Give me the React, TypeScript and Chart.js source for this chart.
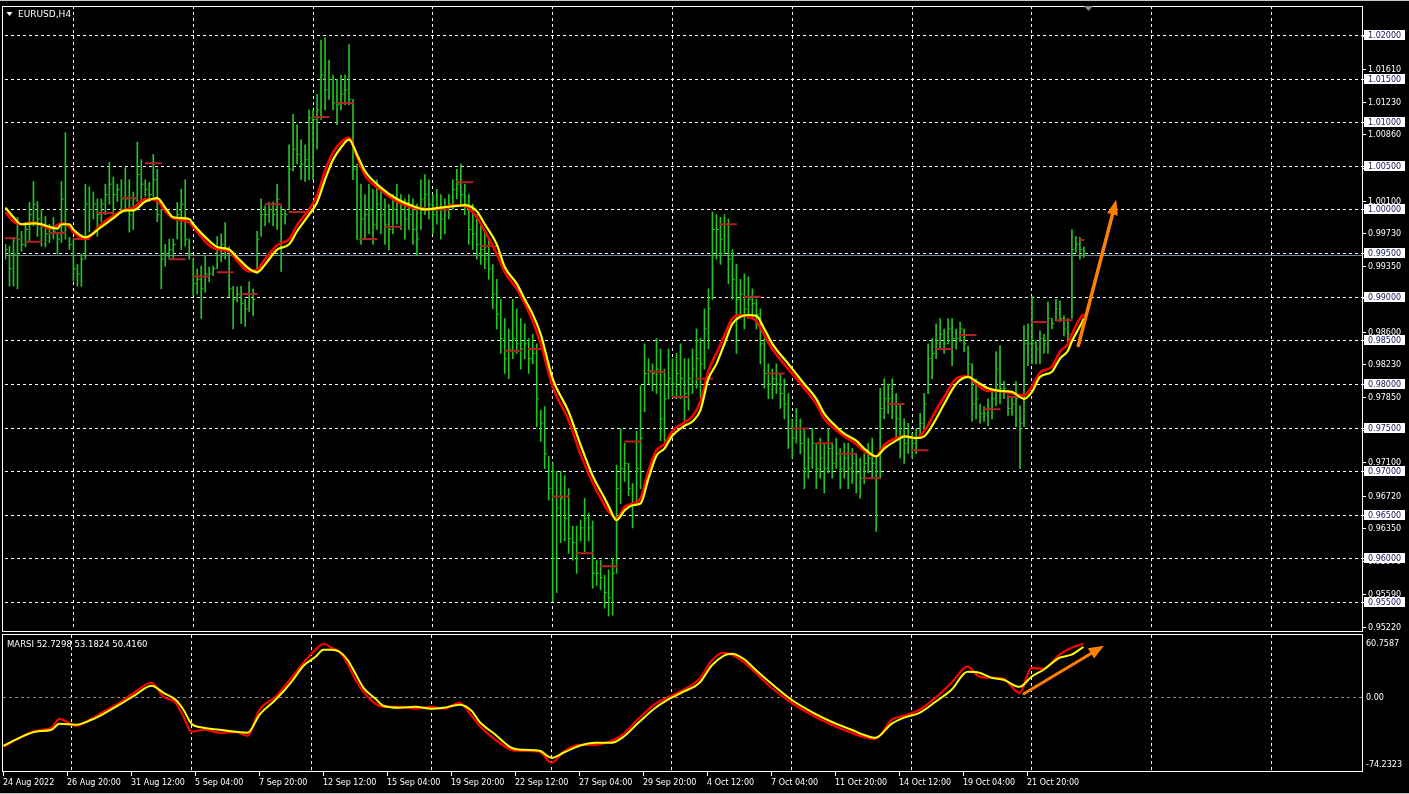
import React, { useEffect, useRef } from 'react';
import { Chart, registerables } from 'chart.js';

Chart.register(...registerables);

// ---------------- DATA (EURUSD H4, bar index 0 = 24 Aug 2022 04:00) ----------------
const BAR_HIGH = [
  0.9960,0.9958,0.9968,0.9991,0.9975,0.9985,1.0008,1.0032,1.0009,1.0000,
  0.9992,0.9983,0.9991,0.9974,1.0032,1.0088,0.9968,0.9966,0.9937,0.9949,
  1.0029,1.0026,1.0020,1.0012,1.0012,1.0029,1.0054,1.0037,1.0029,1.0034,
  1.0048,1.0034,1.0020,1.0077,1.0057,1.0034,1.0031,1.0063,1.0046,1.0000,
  0.9960,0.9966,0.9966,1.0008,1.0023,1.0034,0.9966,0.9943,0.9932,0.9935,
  0.9947,0.9934,0.9935,0.9969,0.9972,0.9985,0.9957,0.9912,0.9911,0.9912,
  0.9897,0.9917,0.9909,0.9975,1.0012,1.0004,1.0008,1.0008,1.0029,1.0004,
  1.0000,1.0074,1.0109,1.0097,1.0080,1.0074,1.0114,1.0114,1.0132,1.0194,
  1.0197,1.0171,1.0154,1.0149,1.0154,1.0154,1.0189,1.0126,1.0052,1.0029,
  1.0017,1.0029,1.0023,1.0034,1.0023,1.0012,1.0006,1.0017,1.0029,1.0017,
  1.0012,1.0017,1.0012,1.0006,1.0034,1.0040,1.0034,1.0017,1.0023,1.0017,
  1.0012,1.0017,1.0034,1.0046,1.0052,1.0029,1.0017,1.0006,0.9994,0.9983,
  0.9977,0.9966,0.9937,0.9920,0.9897,0.9875,0.9863,0.9897,0.9886,0.9875,
  0.9869,0.9852,0.9857,0.9846,0.9770,0.9774,0.9717,0.9709,0.9700,0.9700,
  0.9695,0.9680,0.9637,0.9637,0.9644,0.9669,0.9652,0.9643,0.9598,0.9598,
  0.9581,0.9587,0.9600,0.9707,0.9749,0.9732,0.9709,0.9686,0.9746,0.9798,
  0.9846,0.9829,0.9823,0.9852,0.9840,0.9817,0.9840,0.9829,0.9835,0.9846,
  0.9829,0.9829,0.9840,0.9863,0.9852,0.9886,0.9909,0.9997,0.9994,0.9991,
  0.9994,0.9989,0.9954,0.9937,0.9920,0.9926,0.9923,0.9909,0.9897,0.9886,
  0.9852,0.9823,0.9817,0.9823,0.9812,0.9806,0.9789,0.9760,0.9772,0.9760,
  0.9749,0.9738,0.9749,0.9732,0.9738,0.9732,0.9749,0.9732,0.9738,0.9726,
  0.9732,0.9732,0.9726,0.9720,0.9715,0.9720,0.9732,0.9738,0.9715,0.9795,
  0.9806,0.9800,0.9806,0.9789,0.9777,0.9760,0.9755,0.9743,0.9749,0.9766,
  0.9789,0.9846,0.9852,0.9869,0.9875,0.9863,0.9875,0.9875,0.9863,0.9871,
  0.9863,0.9843,0.9823,0.9806,0.9777,0.9774,0.9783,0.9792,0.9837,0.9844,
  0.9803,0.9787,0.9785,0.9803,0.9775,0.9867,0.9869,0.9900,0.9849,0.9861,
  0.9857,0.9894,0.9875,0.9897,0.9895,0.9878,0.9875,0.9977,0.9969,0.9968,
  0.9957,
];

const BAR_LOW = [
  0.9943,0.9912,0.9912,0.9909,0.9952,0.9957,0.9964,0.9981,0.9969,0.9958,
  0.9957,0.9962,0.9966,0.9949,0.9962,0.9966,0.9954,0.9918,0.9912,0.9912,
  0.9943,0.9974,0.9989,0.9969,0.9986,0.9994,1.0006,0.9989,1.0009,0.9998,
  0.9997,0.9974,0.9977,1.0009,1.0008,1.0015,1.0009,1.0015,0.9986,0.9909,
  0.9935,0.9943,0.9943,0.9966,0.9954,0.9958,0.9943,0.9901,0.9903,0.9875,
  0.9905,0.9917,0.9924,0.9932,0.9940,0.9943,0.9900,0.9863,0.9894,0.9869,
  0.9866,0.9883,0.9878,0.9926,0.9969,0.9981,0.9985,0.9981,0.9977,0.9929,
  0.9983,1.0000,1.0044,1.0052,1.0034,1.0032,1.0034,1.0034,1.0069,1.0103,
  1.0114,1.0126,1.0114,1.0097,1.0114,1.0120,1.0120,1.0034,0.9966,0.9960,
  0.9966,0.9972,0.9960,0.9977,0.9972,0.9960,0.9954,0.9972,0.9983,0.9977,
  0.9966,0.9977,0.9960,0.9947,0.9977,0.9994,0.9989,0.9972,0.9983,0.9966,
  0.9972,0.9989,1.0000,1.0012,1.0006,0.9994,0.9960,0.9954,0.9943,0.9937,
  0.9932,0.9920,0.9886,0.9863,0.9835,0.9812,0.9806,0.9829,0.9835,0.9817,
  0.9829,0.9812,0.9823,0.9751,0.9734,0.9703,0.9667,0.9551,0.9561,0.9618,
  0.9620,0.9606,0.9598,0.9583,0.9620,0.9608,0.9620,0.9566,0.9569,0.9564,
  0.9543,0.9534,0.9535,0.9583,0.9663,0.9688,0.9672,0.9635,0.9663,0.9680,
  0.9768,0.9800,0.9792,0.9789,0.9735,0.9734,0.9783,0.9785,0.9783,0.9783,
  0.9755,0.9770,0.9789,0.9795,0.9783,0.9817,0.9840,0.9897,0.9943,0.9937,
  0.9949,0.9915,0.9897,0.9835,0.9880,0.9863,0.9875,0.9875,0.9863,0.9823,
  0.9795,0.9783,0.9783,0.9789,0.9772,0.9760,0.9726,0.9715,0.9732,0.9720,
  0.9680,0.9692,0.9703,0.9680,0.9692,0.9675,0.9698,0.9692,0.9703,0.9680,
  0.9692,0.9680,0.9686,0.9675,0.9669,0.9686,0.9698,0.9692,0.9631,0.9692,
  0.9760,0.9766,0.9760,0.9738,0.9715,0.9709,0.9720,0.9715,0.9720,0.9738,
  0.9749,0.9789,0.9806,0.9829,0.9840,0.9835,0.9846,0.9821,0.9840,0.9849,
  0.9837,0.9809,0.9757,0.9760,0.9755,0.9757,0.9752,0.9760,0.9775,0.9777,
  0.9783,0.9764,0.9764,0.9751,0.9703,0.9751,0.9821,0.9823,0.9823,0.9823,
  0.9835,0.9835,0.9863,0.9872,0.9871,0.9855,0.9849,0.9875,0.9951,0.9943,
  0.9945,
];

const BAR_CLOSE = [
  0.9954,0.9932,0.9949,0.9966,0.9960,0.9977,0.9994,1.0006,0.9989,0.9983,
  0.9972,0.9977,0.9975,0.9966,1.0012,0.9983,0.9960,0.9932,0.9926,0.9943,
  1.0006,1.0000,1.0006,0.9994,1.0006,1.0017,1.0029,1.0017,1.0023,1.0012,
  1.0012,0.9994,1.0012,1.0040,1.0029,1.0023,1.0017,1.0034,0.9994,0.9943,
  0.9949,0.9954,0.9960,0.9994,1.0006,0.9966,0.9949,0.9915,0.9920,0.9909,
  0.9926,0.9926,0.9932,0.9954,0.9960,0.9954,0.9909,0.9897,0.9903,0.9892,
  0.9886,0.9903,0.9897,0.9966,0.9994,0.9994,1.0000,0.9994,1.0012,0.9994,
  0.9994,1.0046,1.0069,1.0063,1.0052,1.0057,1.0105,1.0103,1.0114,1.0154,
  1.0137,1.0149,1.0122,1.0120,1.0132,1.0137,1.0126,1.0046,0.9966,0.9989,
  0.9994,1.0000,0.9983,1.0006,0.9994,0.9983,0.9977,1.0000,1.0012,1.0000,
  0.9989,0.9994,0.9977,0.9966,1.0012,1.0017,1.0006,0.9994,1.0000,0.9989,
  1.0000,1.0006,1.0023,1.0029,1.0017,1.0006,0.9977,0.9972,0.9960,0.9954,
  0.9943,0.9932,0.9903,0.9880,0.9852,0.9829,0.9840,0.9852,0.9846,0.9840,
  0.9846,0.9829,0.9835,0.9783,0.9755,0.9720,0.9680,0.9600,0.9658,0.9669,
  0.9646,0.9623,0.9618,0.9606,0.9635,0.9646,0.9635,0.9583,0.9583,0.9578,
  0.9561,0.9555,0.9583,0.9680,0.9703,0.9709,0.9680,0.9663,0.9703,0.9738,
  0.9812,0.9815,0.9812,0.9817,0.9760,0.9783,0.9806,0.9800,0.9812,0.9806,
  0.9789,0.9806,0.9817,0.9829,0.9823,0.9863,0.9886,0.9977,0.9977,0.9966,
  0.9983,0.9943,0.9920,0.9897,0.9903,0.9886,0.9897,0.9892,0.9880,0.9846,
  0.9812,0.9800,0.9806,0.9800,0.9789,0.9777,0.9749,0.9738,0.9749,0.9732,
  0.9703,0.9715,0.9732,0.9703,0.9715,0.9703,0.9726,0.9709,0.9720,0.9703,
  0.9715,0.9703,0.9709,0.9698,0.9692,0.9709,0.9715,0.9709,0.9692,0.9772,
  0.9783,0.9783,0.9777,0.9760,0.9738,0.9732,0.9738,0.9732,0.9738,0.9755,
  0.9777,0.9829,0.9835,0.9846,0.9857,0.9846,0.9863,0.9852,0.9852,0.9863,
  0.9846,0.9823,0.9777,0.9783,0.9766,0.9766,0.9772,0.9783,0.9817,0.9795,
  0.9795,0.9772,0.9777,0.9783,0.9755,0.9846,0.9846,0.9846,0.9840,0.9852,
  0.9846,0.9875,0.9869,0.9886,0.9875,0.9863,0.9857,0.9954,0.9960,0.9954,
  0.9949,
];

// previous-day close marks (bar index where each day starts, and level)
const DAY_START = [
  -1,5,11,17,23,29,35,41,47,53,59,65,71,77,83,89,95,101,107,113,
  119,125,131,137,143,149,155,161,167,173,179,185,191,197,203,209,215,221,227,233,
  239,245,251,257,263,269,
];
const DAY_LEVEL = [
  0.9967,0.9963,0.9973,0.9966,0.9996,1.0013,1.0053,0.9943,0.9923,0.9928,
  0.9903,1.0006,0.9997,1.0106,1.0122,0.9966,0.9980,1.0002,1.0000,1.0031,
  0.9958,0.9838,0.9840,0.9671,0.9606,0.9591,0.9734,0.9814,0.9785,0.9806,
  0.9983,0.9900,0.9812,0.9749,0.9732,0.9720,0.9692,0.9777,0.9724,0.9840,
  0.9856,0.9771,0.9785,0.9871,0.9873,0.9965,
];

// moving averages (sampled bar indices)
const MA_IDX = [
  0,2,4,7,9,11,13,14,16,17,
  20,24,27,30,32,35,38,40,42,46,
  47,51,53,56,58,61,63,65,68,71,
  73,76,78,80,82,84,86,88,90,94,
  98,102,105,109,113,115,118,120,123,125,
  128,130,132,134,137,141,144,147,150,151,
  153,155,157,159,161,163,165,167,170,172,
  174,176,178,180,182,184,186,188,190,192,
  196,200,203,205,208,210,213,215,218,220,
  223,225,228,230,233,235,238,241,243,246,
  249,252,255,257,259,262,264,266,267,269,
  270,
];
const MA_YELLOW = [
  1.0002,0.9991,0.9983,0.9984,0.9983,0.9980,0.9978,0.9983,0.9983,0.9977,
  0.9968,0.9980,0.9990,0.9999,0.9999,1.0009,1.0013,1.0002,0.9991,0.9989,
  0.9983,0.9964,0.9957,0.9954,0.9945,0.9932,0.9928,0.9937,0.9954,0.9960,
  0.9975,0.9994,1.0008,1.0034,1.0057,1.0071,1.0080,1.0063,1.0044,1.0025,
  1.0012,1.0004,1.0000,1.0002,1.0004,1.0005,0.9998,0.9983,0.9960,0.9934,
  0.9915,0.9897,0.9880,0.9857,0.9806,0.9768,0.9730,0.9695,0.9669,0.9660,
  0.9644,0.9655,0.9661,0.9663,0.9692,0.9718,0.9726,0.9741,0.9752,0.9757,
  0.9770,0.9806,0.9823,0.9846,0.9869,0.9877,0.9879,0.9878,0.9863,0.9846,
  0.9823,0.9800,0.9783,0.9766,0.9751,0.9743,0.9735,0.9726,0.9717,0.9726,
  0.9735,0.9740,0.9738,0.9740,0.9760,0.9777,0.9800,0.9808,0.9803,0.9795,
  0.9792,0.9791,0.9783,0.9791,0.9808,0.9814,0.9829,0.9838,0.9849,0.9866,
  0.9875,
];
const MA_RED = [
  0.9997,0.9986,0.9983,0.9985,0.9982,0.9978,0.9982,0.9984,0.9980,0.9974,
  0.9966,0.9983,0.9993,1.0000,1.0002,1.0012,1.0010,0.9998,0.9990,0.9985,
  0.9980,0.9959,0.9954,0.9952,0.9941,0.9929,0.9931,0.9943,0.9959,0.9966,
  0.9982,1.0000,1.0016,1.0044,1.0065,1.0077,1.0082,1.0060,1.0039,1.0022,
  1.0009,1.0002,1.0000,1.0002,1.0005,1.0004,0.9991,0.9975,0.9949,0.9928,
  0.9909,0.9892,0.9872,0.9846,0.9797,0.9758,0.9719,0.9687,0.9661,0.9654,
  0.9646,0.9659,0.9663,0.9669,0.9701,0.9724,0.9731,0.9746,0.9756,0.9763,
  0.9780,0.9815,0.9835,0.9856,0.9875,0.9879,0.9877,0.9872,0.9856,0.9840,
  0.9817,0.9795,0.9777,0.9760,0.9747,0.9740,0.9731,0.9723,0.9717,0.9730,
  0.9738,0.9740,0.9738,0.9746,0.9770,0.9785,0.9806,0.9809,0.9800,0.9792,
  0.9792,0.9789,0.9787,0.9797,0.9813,0.9820,0.9837,0.9846,0.9857,0.9875,
  0.9880,
];

// MARSI sub-window (sampled bar indices)
const RSI_IDX = [
  0,4,8,12,14,18,22,25,29,33,
  37,40,43,45,47,50,54,58,61,64,
  68,72,75,78,80,82,84,86,88,90,
  93,95,99,103,107,110,114,117,119,123,
  127,130,134,137,140,144,148,152,155,159,
  163,167,170,174,177,180,182,185,188,192,
  197,202,207,212,215,218,222,225,229,233,
  237,241,244,247,250,254,257,260,264,267,
  270,
];
const RSI_YELLOW = [
  -53.9,-45.0,-38.3,-36.0,-29.4,-30.5,-24.9,-18.2,-8.1,3.0,
  13.1,5.2,-2.6,-13.7,-29.4,-33.8,-36.0,-38.3,-39.4,-19.3,
  -2.6,17.5,35.4,45.4,53.2,53.2,51.0,42.1,26.4,10.8,
  -1.5,-9.3,-11.5,-10.4,-12.6,-11.5,-8.1,-14.8,-27.1,-41.6,
  -56.1,-58.4,-59.5,-67.3,-61.7,-53.9,-50.6,-50.6,-43.9,-27.1,
  -11.5,-0.3,6.4,16.4,35.4,46.5,48.8,43.2,30.9,15.3,
  -2.6,-16.0,-27.1,-36.0,-41.6,-45.0,-29.4,-22.7,-17.1,-4.8,
  8.6,28.7,27.6,22.0,19.8,11.9,23.1,30.9,44.3,47.7,
  56.6,
];
const RSI_RED = [
  -55.0,-45.0,-37.2,-33.8,-23.8,-31.6,-23.8,-16.0,-5.9,6.4,
  16.4,0.8,-5.9,-21.5,-38.3,-36.0,-39.4,-38.3,-42.7,-13.7,
  0.8,22.0,38.7,53.2,59.9,55.5,51.0,37.6,19.8,6.4,
  -7.0,-10.4,-10.4,-12.6,-10.4,-12.6,-5.9,-20.4,-31.6,-47.2,
  -58.4,-59.5,-60.6,-72.9,-60.6,-52.8,-52.8,-48.3,-40.5,-22.7,
  -7.0,1.9,8.6,20.9,41.0,49.9,47.7,39.8,27.6,10.8,
  -5.9,-19.3,-30.5,-39.4,-43.9,-46.1,-24.9,-20.4,-13.7,-0.3,
  16.4,34.3,23.1,22.0,20.9,5.2,33.1,32.0,47.7,55.5,
  59.9,
];

// axes / labels
const PRICE_TICKS = [
  1.0199,1.0161,1.0123,1.0086,1.0048,1.0010,0.9973,0.9935,0.9898,0.9860,
  0.9823,0.9785,0.9747,0.9710,0.9672,0.9635,0.9597,0.9559,0.9522,
];
const LEVEL_LINES = [1.02,1.015,1.01,1.005,1.0,0.995,0.99,0.985,0.98,0.975,0.97,0.965,0.96,0.955];
const BID_PRICE = 0.9948;
const TIME_LABELS = [
  '24 Aug 2022','26 Aug 20:00','31 Aug 12:00','5 Sep 04:00','7 Sep 20:00','12 Sep 12:00',
  '15 Sep 04:00','19 Sep 20:00','22 Sep 12:00','27 Sep 04:00','29 Sep 20:00','4 Oct 12:00',
  '7 Oct 04:00','11 Oct 20:00','14 Oct 12:00','19 Oct 04:00','21 Oct 20:00',
];
const TIME_LABEL_BARS = [0,16,32,48,64,80,96,112,128,144,160,176,192,208,224,240,256];
const GRID_BARS = [17,47,77,107,137,167,197,227,257,287,317];
const RSI_LABEL_VALUES = [60.7587, 0, -74.2323];
const RSI_LABEL_TEXT = ['60.7587', '0.00', '-74.2323'];
const RSI_TITLE = 'MARSI 52.7298 53.1824 50.4160';
const CHART_TITLE = 'EURUSD,H4';
const MAIN_ARROW_BARS = [268.6, 278.1];
const MAIN_ARROW_PRICES = [0.9844, 1.0011];
const SUB_ARROW_BARS = [255.1, 275.1];
const SUB_ARROW_VALUES = [4.1, 57.7];

// ---------------- STYLE ----------------
const X_MIN = -0.125;
const X_MAX = 339.625;
const Y_MIN = 0.95192;
const Y_MAX = 1.02331;
const GREEN = '#22c422';
const ORANGE = '#ff8000';
const FONT = '8px "DejaVu Sans"';

function drawArrow(ctx: CanvasRenderingContext2D, x1: number, y1: number, x2: number, y2: number, width: number, headLen: number, headW: number) {
  const ang = Math.atan2(y2 - y1, x2 - x1);
  const bx = x2 - headLen * Math.cos(ang);
  const by = y2 - headLen * Math.sin(ang);
  ctx.save();
  ctx.strokeStyle = ORANGE;
  ctx.fillStyle = ORANGE;
  ctx.lineWidth = width;
  ctx.lineCap = 'round';
  ctx.beginPath();
  ctx.moveTo(x1, y1);
  ctx.lineTo(bx, by);
  ctx.stroke();
  ctx.beginPath();
  ctx.moveTo(x2, y2);
  ctx.lineTo(bx + (headW / 2) * Math.sin(ang), by - (headW / 2) * Math.cos(ang));
  ctx.lineTo(bx - (headW / 2) * Math.sin(ang), by + (headW / 2) * Math.cos(ang));
  ctx.closePath();
  ctx.fill();
  ctx.restore();
}

const mainDecor = {
  id: 'mainDecor',
  beforeDatasetsDraw(chart: any) {
    const { ctx, chartArea: a, scales } = chart;
    const x = scales.x, y = scales.y;
    ctx.save();
    ctx.fillStyle = '#c8c8c8';
    ctx.fillRect(0, 0, chart.width, 1);
    ctx.strokeStyle = '#ffffff';
    ctx.lineWidth = 1;
    ctx.setLineDash([3, 3]);
    GRID_BARS.forEach((b) => {
      const px = Math.round(x.getPixelForValue(b) - 0.5) + 0.5;
      if (px > a.right) return;
      ctx.beginPath();
      ctx.moveTo(px, a.top);
      ctx.lineTo(px, a.bottom);
      ctx.stroke();
    });
    LEVEL_LINES.forEach((v) => {
      const py = Math.round(y.getPixelForValue(v)) + 0.5;
      ctx.beginPath();
      ctx.moveTo(a.left, py);
      ctx.lineTo(1364, py);
      ctx.stroke();
    });
    ctx.setLineDash([]);
    ctx.strokeStyle = '#778899';
    const by = Math.round(y.getPixelForValue(BID_PRICE)) + 0.5;
    ctx.beginPath();
    ctx.moveTo(a.left, by);
    ctx.lineTo(a.right, by);
    ctx.stroke();
    ctx.restore();
  },
  afterDatasetsDraw(chart: any) {
    const { ctx, scales } = chart;
    const x = scales.x, y = scales.y;
    ctx.save();
    ctx.strokeStyle = '#ffffff';
    ctx.lineWidth = 1;
    ctx.strokeRect(2.5, 6.5, 1360, 625);
    ctx.font = FONT;
    ctx.textBaseline = 'middle';
    ctx.textAlign = 'left';
    PRICE_TICKS.forEach((v) => {
      const py = Math.round(y.getPixelForValue(v)) + 0.5;
      ctx.strokeStyle = '#ffffff';
      ctx.beginPath();
      ctx.moveTo(1362, py);
      ctx.lineTo(1366, py);
      ctx.stroke();
      ctx.fillStyle = '#ffffff';
      ctx.fillText(v.toFixed(5), 1368, py);
    });
    LEVEL_LINES.forEach((v) => {
      const py = Math.round(y.getPixelForValue(v));
      ctx.fillStyle = '#ffffff';
      ctx.fillRect(1364, py - 5, 41, 10);
      ctx.fillStyle = '#14145a';
      ctx.fillText(v.toFixed(5), 1368, py + 0.5);
    });
    drawArrow(
      ctx,
      x.getPixelForValue(MAIN_ARROW_BARS[0]), y.getPixelForValue(MAIN_ARROW_PRICES[0]),
      x.getPixelForValue(MAIN_ARROW_BARS[1]), y.getPixelForValue(MAIN_ARROW_PRICES[1]),
      3.5, 15, 11,
    );
    ctx.fillStyle = '#ffffff';
    ctx.beginPath();
    ctx.moveTo(6.5, 12);
    ctx.lineTo(12.5, 12);
    ctx.lineTo(9.5, 16);
    ctx.closePath();
    ctx.fill();
    ctx.font = '9px "DejaVu Sans"';
    ctx.fillText(CHART_TITLE, 18, 14.5);
    ctx.fillStyle = '#8a8a8a';
    ctx.beginPath();
    ctx.moveTo(1084, 6);
    ctx.lineTo(1093, 6);
    ctx.lineTo(1088.5, 11);
    ctx.closePath();
    ctx.fill();
    ctx.restore();
  },
};

const subDecor = {
  id: 'subDecor',
  beforeDatasetsDraw(chart: any) {
    const { ctx, chartArea: a, scales } = chart;
    const x = scales.x, y = scales.y;
    ctx.save();
    ctx.strokeStyle = '#ffffff';
    ctx.lineWidth = 1;
    ctx.setLineDash([3, 3]);
    GRID_BARS.forEach((b) => {
      const px = Math.round(x.getPixelForValue(b) - 0.5) + 0.5;
      if (px > a.right) return;
      ctx.beginPath();
      ctx.moveTo(px, 1);
      ctx.lineTo(px, 137);
      ctx.stroke();
    });
    ctx.strokeStyle = '#8c8c8c';
    const zy = Math.round(y.getPixelForValue(0)) + 0.5;
    ctx.beginPath();
    ctx.moveTo(a.left, zy);
    ctx.lineTo(1364, zy);
    ctx.stroke();
    ctx.restore();
  },
  afterDatasetsDraw(chart: any) {
    const { ctx, scales } = chart;
    const x = scales.x, y = scales.y;
    ctx.save();
    ctx.strokeStyle = '#ffffff';
    ctx.lineWidth = 1;
    ctx.strokeRect(2.5, 0.5, 1360, 137);
    ctx.font = FONT;
    ctx.textBaseline = 'middle';
    ctx.textAlign = 'left';
    ctx.fillStyle = '#ffffff';
    RSI_LABEL_VALUES.forEach((v, k) => {
      ctx.fillText(RSI_LABEL_TEXT[k], 1366, Math.round(y.getPixelForValue(v)) + 0.5);
    });
    ctx.font = '8.5px "DejaVu Sans"';
    ctx.fillText(RSI_TITLE, 7, 10.5);
    ctx.font = FONT;
    TIME_LABEL_BARS.forEach((b, k) => {
      const px = Math.round(x.getPixelForValue(b) - 0.5) + 0.5;
      ctx.strokeStyle = '#ffffff';
      ctx.beginPath();
      ctx.moveTo(px, 138);
      ctx.lineTo(px, 142);
      ctx.stroke();
      ctx.fillText(TIME_LABELS[k], px - 0.5, 148.5);
    });
    ctx.fillStyle = '#b4b4b4';
    ctx.fillRect(0, 159, chart.width, 1);
    drawArrow(
      ctx,
      x.getPixelForValue(SUB_ARROW_BARS[0]), y.getPixelForValue(SUB_ARROW_VALUES[0]),
      x.getPixelForValue(SUB_ARROW_BARS[1]), y.getPixelForValue(SUB_ARROW_VALUES[1]),
      3, 15, 12,
    );
    ctx.restore();
  },
};

export default function App() {
  const mainRef = useRef<HTMLCanvasElement>(null);
  const subRef = useRef<HTMLCanvasElement>(null);

  useEffect(() => {
    const n = Math.min(BAR_HIGH.length, BAR_LOW.length, BAR_CLOSE.length);
    const barData: any[] = [];
    const closeData: any[] = [];
    for (let i = 0; i < n; i++) {
      barData.push({ x: i, y: [BAR_LOW[i], BAR_HIGH[i]] });
      closeData.push({ x: i + 0.375, y: BAR_CLOSE[i] });
    }
    const dailyData: any[] = [];
    DAY_START.forEach((s, k) => {
      const lvl = DAY_LEVEL[k];
      if (lvl === undefined) return;
      dailyData.push({ x: s - 0.1, y: lvl });
      dailyData.push({ x: Math.min(s + 4.1, n - 0.9), y: lvl });
      dailyData.push({ x: s + 4.2, y: null });
    });
    const maY: any[] = [];
    const maR: any[] = [];
    MA_IDX.forEach((ix, k) => {
      if (MA_YELLOW[k] !== undefined) maY.push({ x: ix, y: MA_YELLOW[k] });
      if (MA_RED[k] !== undefined) maR.push({ x: ix, y: MA_RED[k] });
    });
    const rsY: any[] = [];
    const rsR: any[] = [];
    RSI_IDX.forEach((ix, k) => {
      if (RSI_YELLOW[k] !== undefined) rsY.push({ x: ix, y: RSI_YELLOW[k] });
      if (RSI_RED[k] !== undefined) rsR.push({ x: ix, y: RSI_RED[k] });
    });

    const common: any = {
      responsive: false,
      animation: false,
      devicePixelRatio: 1,
      events: [],
      plugins: { legend: { display: false }, tooltip: { enabled: false }, title: { display: false } },
    };

    const main = new Chart(mainRef.current as HTMLCanvasElement, {
      type: 'line',
      data: {
        datasets: [
          { type: 'bar', data: barData, backgroundColor: GREEN, borderWidth: 0, barThickness: 1, grouped: false, order: 5 } as any,
          { type: 'scatter', data: closeData, pointStyle: 'line', pointRadius: 1, borderColor: GREEN, borderWidth: 1, showLine: false, order: 4 } as any,
          { type: 'line', data: dailyData, borderColor: '#b22222', borderWidth: 2, pointRadius: 0, spanGaps: false, order: 3 } as any,
          { type: 'line', data: maR, borderColor: '#ff0000', borderWidth: 2.6, pointRadius: 0, cubicInterpolationMode: 'monotone', order: 2 } as any,
          { type: 'line', data: maY, borderColor: '#ffff00', borderWidth: 2.2, pointRadius: 0, cubicInterpolationMode: 'monotone', order: 1 } as any,
        ],
      },
      options: {
        ...common,
        layout: { padding: { left: 3, right: 47, top: 6, bottom: 3 } },
        scales: {
          x: { type: 'linear', min: X_MIN, max: X_MAX, offset: false, display: false },
          y: { type: 'linear', min: Y_MIN, max: Y_MAX, display: false },
        },
      },
      plugins: [mainDecor],
    } as any);

    const sub = new Chart(subRef.current as HTMLCanvasElement, {
      type: 'line',
      data: {
        datasets: [
          { data: rsR, borderColor: '#ff0000', borderWidth: 2.2, pointRadius: 0, cubicInterpolationMode: 'monotone', order: 2 } as any,
          { data: rsY, borderColor: '#ffff00', borderWidth: 2, pointRadius: 0, cubicInterpolationMode: 'monotone', order: 1 } as any,
        ],
      },
      options: {
        ...common,
        layout: { padding: { left: 3, right: 47, top: 9, bottom: 30 } },
        scales: {
          x: { type: 'linear', min: X_MIN, max: X_MAX, offset: false, display: false },
          y: { type: 'linear', min: -74.2323, max: 60.7587, display: false },
        },
      },
      plugins: [subDecor],
    } as any);

    return () => {
      main.destroy();
      sub.destroy();
    };
  }, []);

  return (
    <div style={{ position: 'fixed', left: 0, top: 0, width: 1409, height: 794, background: '#000000', overflow: 'hidden' }}>
      <canvas ref={mainRef} width={1409} height={634} style={{ position: 'absolute', left: 0, top: 0, width: 1409, height: 634 }} />
      <canvas ref={subRef} width={1409} height={160} style={{ position: 'absolute', left: 0, top: 634, width: 1409, height: 160 }} />
    </div>
  );
}
